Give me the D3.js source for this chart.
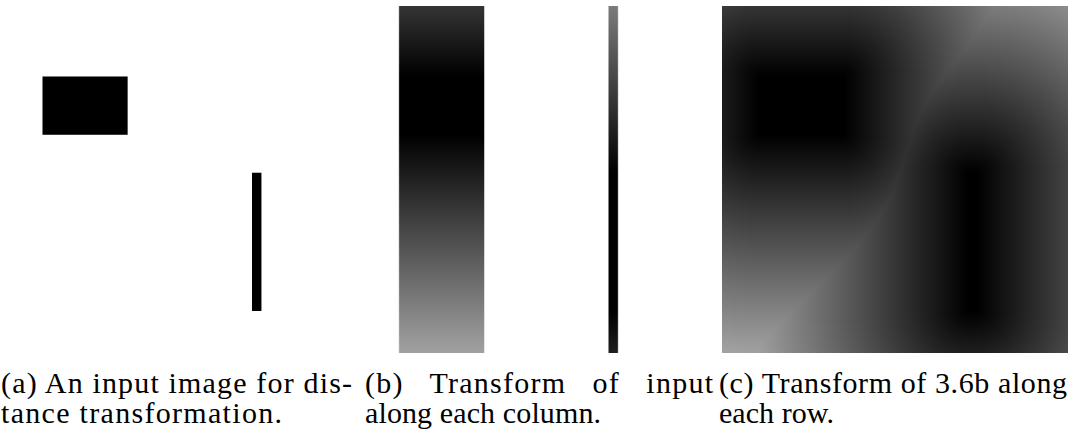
<!DOCTYPE html>
<html>
<head>
<meta charset="utf-8">
<script src="https://cdn.jsdelivr.net/npm/d3@7/dist/d3.min.js"></script>
<style>
  html, body { margin: 0; padding: 0; background: #fff; }
  svg { display: block; }
  text { font-family: "Liberation Serif", "DejaVu Serif", serif; fill: #000; }
</style>
</head>
<body>
<svg id="chart" width="1072" height="438"></svg>
<script>
// ---- data: input image (256 x 256 pixel grid) with two black objects ----
const gridSize = 256;
const objectNames = ["block", "bar"];
const objectX0 = [27, 182];
const objectX1 = [90, 189];
const objectY0 = [52, 123];
const objectY1 = [95, 225];

// ---- captions (lines of each sub-figure caption) ----
const panelIds = ["a", "b", "c"];
const captionLine1 = ["(a) An input image for dis-", "(b)   Transform   of   input", "(c) Transform of 3.6b along"];
const captionLine2 = ["tance transformation.", "along each column.", "each row."];

// ---- layout ----
const panelLeft = [6, 362.5, 722];
const panelTop = 6, panelW = 346, panelH = 347;
const capX = [1, 365, 719];
const capW1 = [351, 348, 348];
const capW2 = [281, 236, 115];
const capBase1 = 393, capBase2 = 423;

const svg = d3.select("#chart");

const objects = objectNames.map((n, i) => ({
  name: n, x0: objectX0[i], x1: objectX1[i], y0: objectY0[i], y1: objectY1[i]
}));

const yScale = d3.scaleLinear().domain([0, gridSize]).range([panelTop, panelTop + panelH]);
const xScales = panelLeft.map(l => d3.scaleLinear().domain([0, gridSize]).range([l, l + panelW]));
const grayScale = d3.scaleLinear().domain([0, 255]).range([0, 255]).clamp(true);

// ---- panel (a): the input image ----
const gA = svg.append("g");
gA.append("rect")
  .attr("x", xScales[0](0)).attr("y", yScale(0))
  .attr("width", xScales[0](gridSize) - xScales[0](0))
  .attr("height", yScale(gridSize) - yScale(0))
  .attr("fill", "#fff");
gA.selectAll("rect.obj").data(objects).join("rect")
  .attr("class", "obj")
  .attr("x", d => xScales[0](d.x0))
  .attr("y", d => yScale(d.y0))
  .attr("width", d => xScales[0](d.x1) - xScales[0](d.x0))
  .attr("height", d => yScale(d.y1) - yScale(d.y0))
  .attr("fill", "#000");

// ---- distance transforms ----
function columnDistance(x, y) {
  let best = Infinity;
  for (const o of objects) {
    if (x >= o.x0 && x < o.x1) {
      const dy = Math.max(o.y0 - y, 0, y - (o.y1 - 1));
      best = Math.min(best, dy);
    }
  }
  return best;
}
function fullDistance(x, y) {
  let best = Infinity;
  for (const o of objects) {
    const dx = Math.max(o.x0 - x, 0, x - (o.x1 - 1));
    const dy = Math.max(o.y0 - y, 0, y - (o.y1 - 1));
    best = Math.min(best, Math.sqrt(dx * dx + dy * dy));
  }
  return best;
}

function makeImage(distFn) {
  const cv = document.createElement("canvas");
  cv.width = gridSize; cv.height = gridSize;
  const ctx = cv.getContext("2d");
  const img = ctx.createImageData(gridSize, gridSize);
  for (let y = 0; y < gridSize; y++) {
    for (let x = 0; x < gridSize; x++) {
      const d = distFn(x, y);
      const g = Math.round(grayScale(isFinite(d) ? d : 255));
      const k = (y * gridSize + x) * 4;
      img.data[k] = g; img.data[k + 1] = g; img.data[k + 2] = g; img.data[k + 3] = 255;
    }
  }
  ctx.putImageData(img, 0, 0);
  return cv.toDataURL();
}

const images = [null, makeImage(columnDistance), makeImage(fullDistance)];
[1, 2].forEach(i => {
  svg.append("image")
    .attr("href", images[i])
    .attr("x", xScales[i](0)).attr("y", yScale(0))
    .attr("width", xScales[i](gridSize) - xScales[i](0))
    .attr("height", yScale(gridSize) - yScale(0))
    .attr("preserveAspectRatio", "none");
});

// ---- captions ----
const gCap = svg.append("g").attr("font-size", 30);
panelIds.forEach((id, i) => {
  gCap.append("text")
    .attr("x", capX[i]).attr("y", capBase1)
    .attr("textLength", capW1[i]).attr("lengthAdjust", "spacing")
    .attr("xml:space", "preserve")
    .text(captionLine1[i]);
  gCap.append("text")
    .attr("x", capX[i]).attr("y", capBase2)
    .attr("textLength", capW2[i]).attr("lengthAdjust", "spacing")
    .text(captionLine2[i]);
});
</script>
</body>
</html>
